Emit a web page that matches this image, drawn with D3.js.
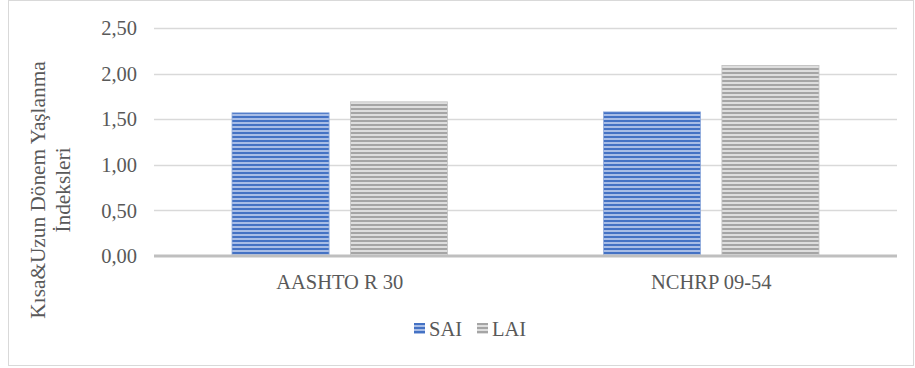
<!DOCTYPE html>
<html><head><meta charset="utf-8">
<script src="https://cdn.jsdelivr.net/npm/d3@7/dist/d3.min.js"></script>
<style>body{margin:0;background:#fff}svg{display:block}</style>
</head><body>
<script>
const categories = ["AASHTO R 30", "NCHRP 09-54"];
const seriesNames = ["SAI", "LAI"];
const SAI = [1.57, 1.58];
const LAI = [1.69, 2.09];
const yTicks = [0, 0.5, 1.0, 1.5, 2.0, 2.5];
const yTitle = ["Kısa&Uzun Dönem Yaşlanma", "İndeksleri"];

(function () {
const W = 915, H = 368;
const svg = d3.select("body").append("svg").attr("width", W).attr("height", H);
const FF = '"Liberation Serif"';
const txt = "#595959";

const defs = svg.append("defs");
function stripes(id, dark, light) {
  const p = defs.append("pattern").attr("id", id).attr("patternUnits", "userSpaceOnUse")
    .attr("width", 8).attr("height", 4);
  p.append("rect").attr("width", 8).attr("height", 4).attr("fill", light);
  p.append("rect").attr("width", 8).attr("height", 2).attr("fill", dark);
}
stripes("pSAI", "#4472c4", "#a8bde6");
stripes("pLAI", "#a5a5a5", "#dedede");
const fills = {SAI: "url(#pSAI)", LAI: "url(#pLAI)"};
const strokes = {SAI: "#8eaadc", LAI: "#c4c4c4"};

// chart border
svg.append("rect").attr("x", 8.5).attr("y", 0.5).attr("width", 905).attr("height", 365)
  .attr("fill", "#fff").attr("stroke", "#d9d9d9");

const pLeft = 154, pRight = 897, pTop = 28, pBottom = 256;
const y = d3.scaleLinear().domain([0, 2.5]).range([pBottom, pTop]);
const x0 = d3.scaleBand().domain(categories).range([pLeft, pRight]).padding(0);
const gw = 215.5;
const x1 = d3.scaleBand().domain(seriesNames)
  .range([(x0.bandwidth() - gw) / 2, (x0.bandwidth() + gw) / 2]).paddingInner(0.18).paddingOuter(0);

// gridlines
svg.append("g").selectAll("line").data(yTicks.filter(d => d > 0)).join("line")
  .attr("x1", pLeft).attr("x2", pRight)
  .attr("y1", d => Math.round(y(d)) + 0.5).attr("y2", d => Math.round(y(d)) + 0.5)
  .attr("stroke", "#d9d9d9").attr("stroke-width", 1.5);

// y tick labels
const fmt = d => d.toFixed(2).replace(".", ",");
svg.append("g").selectAll("text").data(yTicks).join("text")
  .attr("x", 137).attr("y", d => y(d)).attr("dy", "0.35em")
  .attr("text-anchor", "end").style("font-family", FF).attr("font-size", 20.5)
  .attr("fill", txt).text(fmt);

// bars
const data = categories.map((c, i) => ({cat: c, vals: [{s: "SAI", v: SAI[i]}, {s: "LAI", v: LAI[i]}]}));
const g = svg.append("g").selectAll("g").data(data).join("g")
  .attr("transform", d => `translate(${x0(d.cat)},0)`);
g.selectAll("rect").data(d => d.vals).join("rect")
  .attr("x", d => x1(d.s)).attr("width", x1.bandwidth())
  .attr("y", d => y(d.v)).attr("height", d => y(0) - y(d.v))
  .attr("fill", d => fills[d.s]).attr("stroke", d => strokes[d.s]).attr("stroke-width", 0.8);

// x axis line
svg.append("line").attr("x1", pLeft).attr("x2", pRight).attr("y1", pBottom).attr("y2", pBottom)
  .attr("stroke", "#bfbfbf").attr("stroke-width", 3);

// category labels
svg.append("g").selectAll("text").data(categories).join("text")
  .attr("x", d => x0(d) + x0.bandwidth() / 2).attr("y", 282).attr("dy", "0.35em")
  .attr("text-anchor", "middle").style("font-family", FF).attr("font-size", 20.5)
  .attr("fill", txt).text(d => d);

// y title
yTitle.forEach((t, i) => {
  svg.append("text").attr("transform", `translate(${38 + i * 25},190) rotate(-90)`)
    .attr("dy", "0.35em").attr("text-anchor", "middle")
    .style("font-family", FF).attr("font-size", 21.3).attr("fill", txt).text(t);
});

// legend
const legX = [414, 477];
const lg = svg.append("g").selectAll("g").data(seriesNames).join("g")
  .attr("transform", (d, i) => `translate(${legX[i]},323)`);
lg.append("rect").attr("width", 11).attr("height", 11).attr("fill", d => fills[d]);
lg.append("text").attr("x", 15).attr("y", 5.5).attr("dy", "0.35em")
  .style("font-family", FF).attr("font-size", 20.5).attr("fill", txt).text(d => d);
})();
</script>
</body></html>
